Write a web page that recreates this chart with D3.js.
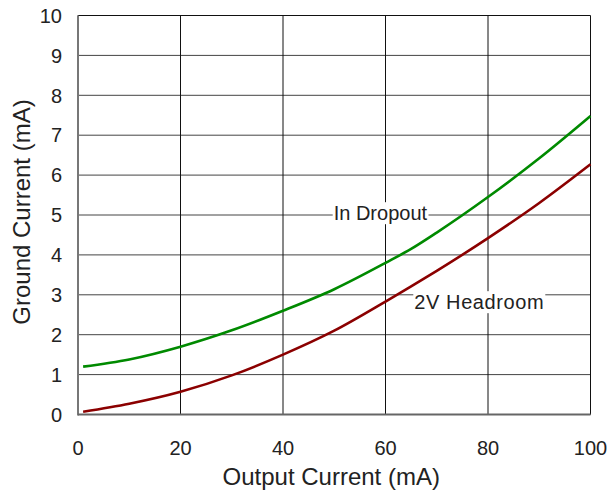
<!DOCTYPE html>
<html>
<head>
<meta charset="utf-8">
<script src="https://cdn.jsdelivr.net/npm/d3@7"></script>
<style>
  body { margin: 0; background: #fff; }
  text { font-family: 'Liberation Sans', Arial, sans-serif; fill: #222; }
</style>
</head>
<body>
<div id="graphic"></div>
<script>
'use strict';
(function (d3) {
  // data
  const outputCurrent = [1, 10, 20, 30, 40, 50, 60, 65, 70, 80, 90, 100];
  const inDropout = [1.2, 1.38, 1.7, 2.11, 2.6, 3.14, 3.8, 4.15, 4.56, 5.45, 6.42, 7.48];
  const headroom2V = [0.07, 0.27, 0.57, 0.98, 1.5, 2.1, 2.83, 3.21, 3.6, 4.42, 5.3, 6.27];
  const xTicks = [0, 20, 40, 60, 80, 100];
  const yTicks = [0, 1, 2, 3, 4, 5, 6, 7, 8, 9, 10];

  const width = 610;
  const height = 495;
  const margin = { top: 15.5, right: 19.5, bottom: 80.5, left: 78 };

  const x = d3.scaleLinear().domain([0, 100]).range([margin.left, width - margin.right]);
  const y = d3.scaleLinear().domain([0, 10]).range([height - margin.bottom, margin.top]);

  const svg = d3.select(`div#graphic`).append(`svg`).attr(`width`, width).attr(`height`, height);

  // grid
  svg
    .append(`g`)
    .selectAll(`line`)
    .data(yTicks)
    .join(`line`)
    .attr(`x1`, x(0))
    .attr(`x2`, x(100))
    .attr(`y1`, (d) => y(d))
    .attr(`y2`, (d) => y(d))
    .attr(`stroke`, (d) => (d === 10 ? `#111` : `#444`))
    .attr(`stroke-width`, 1);

  svg
    .append(`g`)
    .selectAll(`line`)
    .data(xTicks)
    .join(`line`)
    .attr(`x1`, (d) => x(d))
    .attr(`x2`, (d) => x(d))
    .attr(`y1`, y(0))
    .attr(`y2`, y(10))
    .attr(`stroke`, `#111`)
    .attr(`stroke-width`, 1);

  // axes lines (left + bottom are grey and heavier)
  svg
    .append(`line`)
    .attr(`x1`, x(0))
    .attr(`x2`, x(0))
    .attr(`y1`, y(0) + 1)
    .attr(`y2`, y(10))
    .attr(`stroke`, `#777`)
    .attr(`stroke-width`, 2);
  svg
    .append(`line`)
    .attr(`x1`, x(0))
    .attr(`x2`, x(100))
    .attr(`y1`, y(0))
    .attr(`y2`, y(0))
    .attr(`stroke`, `#666`)
    .attr(`stroke-width`, 2);

  // tick labels
  svg
    .append(`g`)
    .attr(`font-size`, 20)
    .attr(`text-anchor`, `end`)
    .selectAll(`text`)
    .data(yTicks)
    .join(`text`)
    .attr(`x`, x(0) - 16)
    .attr(`y`, (d) => y(d))
    .attr(`dy`, `0.36em`)
    .text((d) => d);

  svg
    .append(`g`)
    .attr(`font-size`, 20)
    .attr(`text-anchor`, `middle`)
    .selectAll(`text`)
    .data(xTicks)
    .join(`text`)
    .attr(`x`, (d) => x(d))
    .attr(`y`, y(0) + 40)
    .text((d) => d);

  // axis titles
  svg
    .append(`text`)
    .attr(`font-size`, 24)
    .attr(`text-anchor`, `middle`)
    .attr(`x`, (x(0) + x(100)) / 2 - 3)
    .attr(`y`, height - 10)
    .text(`Output Current (mA)`);

  svg
    .append(`text`)
    .attr(`font-size`, 24)
    .attr(`text-anchor`, `middle`)
    .attr(`transform`, `translate(30,${(y(0) + y(10)) / 2 - 3}) rotate(-90)`)
    .text(`Ground Current (mA)`);

  // labels on top of grid with white box
  const labels = [
    { text: `In Dropout`, xv: 59, yv: 5.05, spacing: 0 },
    { text: `2V  Headroom`, xv: 78.3, yv: 2.82, spacing: 0.6 }
  ];
  const lg = svg.append(`g`);
  labels.forEach(function (l) {
    const t = lg
      .append(`text`)
      .attr(`font-size`, 20)
      .attr(`letter-spacing`, l.spacing)
      .attr(`text-anchor`, `middle`)
      .attr(`x`, x(l.xv))
      .attr(`y`, y(l.yv))
      .attr(`dy`, `0.36em`)
      .text(l.text);
    const bb = t.node().getBBox();
    lg.insert(`rect`, () => t.node())
      .attr(`x`, bb.x - 1)
      .attr(`y`, bb.y)
      .attr(`width`, bb.width + 2)
      .attr(`height`, bb.height)
      .attr(`fill`, `#fff`);
  });

  // curves
  const line = (vals) =>
    d3
      .line()
      .x((d, i) => x(outputCurrent[i]))
      .y((d) => y(d))
      .curve(d3.curveMonotoneX)(vals);

  svg
    .append(`path`)
    .attr(`d`, line(inDropout))
    .attr(`fill`, `none`)
    .attr(`stroke`, `#008a00`)
    .attr(`stroke-width`, 2.6);

  svg
    .append(`path`)
    .attr(`d`, line(headroom2V))
    .attr(`fill`, `none`)
    .attr(`stroke`, `#8b0000`)
    .attr(`stroke-width`, 2.6);
})(d3);
</script>
</body>
</html>
